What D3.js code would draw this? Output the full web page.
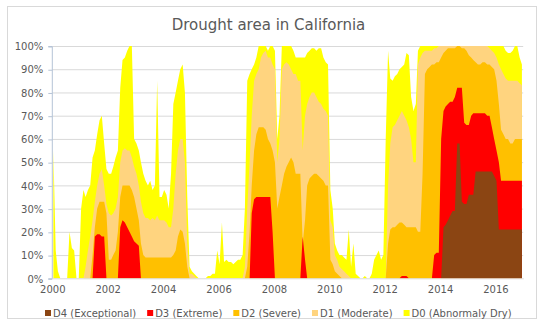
<!DOCTYPE html>
<html>
<head>
<meta charset="utf-8">
<script src="https://cdn.jsdelivr.net/npm/d3@7"></script>
<style>
  html, body { margin: 0; padding: 0; background: #fff; }
  svg { display: block; font-family: "DejaVu Sans", Verdana, sans-serif; }
</style>
</head>
<body>
<svg id="chart" width="543" height="324"></svg>
<script>
// ---- chart data ---------------------------------------------------------
const chartTitle = "Drought area in California";
const firstYear = 2000;
const lastYear = 2016;
const yTickValues = [0, 10, 20, 30, 40, 50, 60, 70, 80, 90, 100];
const xTickYears = [2000, 2002, 2004, 2006, 2008, 2010, 2012, 2014, 2016];

const levels = ["D4 (Exceptional)", "D3 (Extreme)", "D2 (Severe)", "D1 (Moderate)", "D0 (Abnormaly Dry)"];
const levelColors = ["#8b4513", "#ff0000", "#ffc000", "#ffd47f", "#ffff00"];

// Percent of the state's area at the given level or worse.
// One row per year, Jan..Dec.
const d0_d4 = [
  55, 12,  3,  0,  0,  0,  0, 20, 13, 12,  0,  0, // 2000
  30, 38, 35, 38, 40, 52, 55, 62, 68, 70, 58, 47, // 2001
  45, 45, 48, 52, 55, 82, 94, 95, 98,100,100, 60, // 2002
  58, 55, 50, 45, 42, 40, 42, 38, 40, 85, 35, 35, // 2003
  38, 36, 30, 45, 75, 80, 85, 90, 92, 80, 35,  5, // 2004
   3,  2,  1,  0,  0,  0,  0,  1,  1,  2,  2, 12, // 2005
   6, 24,  7,  8,  7,  7,  6,  7,  8,  8, 10, 30, // 2006
  85, 88, 90, 92, 95,100,100,100,100, 98,100,100, // 2007
  98, 60, 70,100,100,100,100,100, 98, 95, 95, 95, // 2008
  95, 95, 97, 98, 99, 99, 98, 99, 99, 95, 93, 92, // 2009
  38, 30, 15, 12, 10, 10,  9,  8, 21,  5, 15,  2, // 2010
   1,  0,  0,  1,  0,  0,  2,  8, 10, 12,  8, 10, // 2011
  60, 98, 86, 85, 87, 88, 90, 91, 92, 97, 96, 78, // 2012
  72, 75, 98,100,100,100,100,100,100,100,100,100, // 2013
 100,100,100,100,100,100,100,100,100,100,100,100, // 2014
 100,100,100,100,100,100,100,100,100,100,100,100, // 2015
 100,100,100,100, 98, 97, 97, 98,100,100, 95, 92  // 2016
];
const d1_d4 = [
   0,  0,  0,  0,  0,  0,  0,  0,  0,  0,  0,  0, // 2000
   0,  0,  5, 12, 18, 25, 33, 40, 45, 47, 40, 32, // 2001
  28, 27, 28, 30, 35, 50, 55, 56, 55, 55, 52, 48, // 2002
  45, 40, 33, 28, 26, 26, 25, 26, 25, 27, 25, 25, // 2003
  25, 24, 22, 22, 30, 45, 55, 60, 60, 50, 15,  2, // 2004
   2,  1,  0,  0,  0,  0,  0,  0,  0,  0,  0,  0, // 2005
   0,  0,  0,  0,  0,  0,  0,  0,  0,  0,  0,  5, // 2006
  30, 50, 70, 85, 88, 90, 95, 97, 98, 95, 95, 92, // 2007
  90, 50, 60, 90, 92, 93, 92, 90, 88, 88, 85, 85, // 2008
  55, 70, 75, 78, 80, 80, 78, 76, 75, 73, 72, 70, // 2009
  25, 22, 10,  8,  5,  4,  3,  2,  1,  0,  0,  0, // 2010
   0,  0,  0,  0,  0,  0,  0,  0,  0,  0,  0,  0, // 2011
   0, 40, 58, 65, 66, 68, 70, 72, 70, 68, 65, 60, // 2012
  50, 50, 92, 95, 97, 98, 98, 98, 98, 99, 99,100, // 2013
 100,100,100,100,100,100,100,100,100,100,100,100, // 2014
 100,100,100,100,100,100,100,100,100, 99, 98, 97, // 2015
  95, 92, 90, 88, 86, 85, 85, 85, 85, 85, 84, 83  // 2016
];
const d2_d4 = [
   0,  0,  0,  0,  0,  0,  0,  0,  0,  0,  0,  0, // 2000
   0,  0,  0,  0,  0, 10, 22, 30, 33, 33, 33, 28, // 2001
   8,  8, 10, 12, 20, 35, 40, 40, 40, 40, 38, 35, // 2002
  30, 25, 15, 10,  9,  9,  9,  9,  9,  9,  9,  9, // 2003
   9,  9,  9,  9, 10, 12, 18, 21, 20, 15,  5,  0, // 2004
   0,  0,  0,  0,  0,  0,  0,  0,  0,  0,  0,  0, // 2005
   0,  0,  0,  0,  0,  0,  0,  0,  0,  0,  0,  0, // 2006
   5, 20, 40, 55, 62, 65, 65, 65, 64, 60, 58, 55, // 2007
  50, 30, 35, 40, 45, 48, 50, 52, 50, 45, 45, 45, // 2008
  15, 25, 40, 43, 44, 45, 45, 44, 43, 42, 40, 40, // 2009
   8,  6,  3,  2,  1,  0,  0,  0,  0,  0,  0,  0, // 2010
   0,  0,  0,  0,  0,  0,  0,  0,  0,  0,  0,  0, // 2011
   0, 15, 21, 22, 22, 23, 24, 24, 23, 22, 22, 22, // 2012
  22, 22, 20, 20, 45, 88, 90, 91, 92, 92, 93, 93, // 2013
  95, 97, 98, 99, 99, 99, 99,100,100, 99, 99, 98, // 2014
  96, 95, 94, 93, 92, 92, 93, 93, 92, 92, 91, 90, // 2015
  85, 75, 64, 62, 60, 60, 58, 58, 60, 60, 60, 60  // 2016
];
const d3_d4 = [
   0,  0,  0,  0,  0,  0,  0,  0,  0,  0,  0,  0, // 2000
   0,  0,  0,  0,  0,  0, 18, 19, 19, 18, 18,  0, // 2001
   0,  0,  0,  0,  0, 22, 25, 24, 22, 20, 18, 16, // 2002
  15, 14,  0,  0,  0,  0,  0,  0,  0,  0,  0,  0, // 2003
   0,  0,  0,  0,  0,  0,  0,  0,  0,  0,  0,  0, // 2004
   0,  0,  0,  0,  0,  0,  0,  0,  0,  0,  0,  0, // 2005
   0,  0,  0,  0,  0,  0,  0,  0,  0,  0,  0,  0, // 2006
   0,  0, 28, 34, 35, 35, 35, 35, 35, 35, 35, 20, // 2007
   0,  0,  0,  0,  0,  0,  0,  0,  0,  0,  0,  0, // 2008
  18,  8,  0,  0,  0,  0,  0,  0,  0,  0,  0,  0, // 2009
   0,  0,  0,  0,  0,  0,  0,  0,  0,  0,  0,  0, // 2010
   0,  0,  0,  0,  0,  0,  0,  0,  0,  0,  0,  0, // 2011
   0,  0,  0,  0,  0,  0,  0,  1,  1,  1,  0,  0, // 2012
   0,  0,  0,  0,  0,  0,  0,  0,  0, 10, 11, 11, // 2013
  60, 72, 74, 75, 76, 76, 78, 82, 82, 82, 67, 66, // 2014
  66, 70, 71, 71, 71, 71, 71, 71, 70, 70, 65, 60, // 2015
  55, 50, 42, 42, 42, 42, 42, 42, 42, 42, 42, 42  // 2016
];
const d4 = [
   0,  0,  0,  0,  0,  0,  0,  0,  0,  0,  0,  0, // 2000
   0,  0,  0,  0,  0,  0,  0,  0,  0,  0,  0,  0, // 2001
   0,  0,  0,  0,  0,  0,  0,  0,  0,  0,  0,  0, // 2002
   0,  0,  0,  0,  0,  0,  0,  0,  0,  0,  0,  0, // 2003
   0,  0,  0,  0,  0,  0,  0,  0,  0,  0,  0,  0, // 2004
   0,  0,  0,  0,  0,  0,  0,  0,  0,  0,  0,  0, // 2005
   0,  0,  0,  0,  0,  0,  0,  0,  0,  0,  0,  0, // 2006
   0,  0,  0,  0,  0,  0,  0,  0,  0,  0,  0,  0, // 2007
   0,  0,  0,  0,  0,  0,  0,  0,  0,  0,  0,  0, // 2008
   0,  0,  0,  0,  0,  0,  0,  0,  0,  0,  0,  0, // 2009
   0,  0,  0,  0,  0,  0,  0,  0,  0,  0,  0,  0, // 2010
   0,  0,  0,  0,  0,  0,  0,  0,  0,  0,  0,  0, // 2011
   0,  0,  0,  0,  0,  0,  0,  0,  0,  0,  0,  0, // 2012
   0,  0,  0,  0,  0,  0,  0,  0,  0,  0,  0,  0, // 2013
   0, 22, 23, 25, 27, 29, 29, 58, 58, 33, 32, 32, // 2014
  36, 36, 36, 46, 46, 46, 46, 46, 46, 46, 46, 44, // 2015
  42, 21, 21, 21, 21, 21, 21, 21, 21, 21, 21, 21  // 2016
];

// ---- layout -------------------------------------------------------------
const svg = d3.select("#chart");
const W = 543, H = 324;
const plot = { left: 52.3, right: 523.2, top: 46, bottom: 278.3 };
const textColor = "#595959";

svg.append("rect").attr("width", W).attr("height", H).attr("fill", "#fff");
svg.append("rect")
  .attr("x", 7.5).attr("y", 6.5).attr("width", 529).attr("height", 312)
  .attr("fill", "none").attr("stroke", "#d9d9d9");

const x = d3.scaleTime()
  .domain([new Date(firstYear, 0, 1), new Date(lastYear + 1, 0, 1)])
  .range([plot.left, plot.right]);
const y = d3.scaleLinear().domain([0, 100]).range([plot.bottom, plot.top]);

// month stamps (mid-month) for the series rows
const monthDates = d3.range(d0_d4.length).map(i => new Date(firstYear, i, 15));

// gridlines
svg.append("g").selectAll("line").data(yTickValues.filter(v => v > 0)).join("line")
  .attr("x1", plot.left).attr("x2", plot.right)
  .attr("y1", d => y(d) + 0.5).attr("y2", d => y(d) + 0.5)
  .attr("stroke", "#d9d9d9").attr("stroke-width", 1);

// stacked drought levels, drawn from the widest (D0 or worse) to the narrowest
const cumulative = [d4, d3_d4, d2_d4, d1_d4, d0_d4];
const area = d3.area()
  .x(d => x(d.date))
  .y0(y(0))
  .y1(d => y(d.v))
  .curve(d3.curveLinear);

const areaG = svg.append("g");
for (let k = cumulative.length - 1; k >= 0; k--) {
  const series = cumulative[k].map((v, i) => ({ date: monthDates[i], v }));
  areaG.append("path")
    .datum(series)
    .attr("d", area)
    .attr("fill", levelColors[k]);
}

// y axis
const yAxis = d3.axisLeft(y).tickValues(yTickValues).tickSize(4).tickPadding(5)
  .tickFormat(d => d + "%");
const gy = svg.append("g").attr("transform", `translate(${plot.left},0.5)`).call(yAxis);
gy.select(".domain").attr("stroke", "#b5c3d6").attr("d", `M-4,${plot.top}H0V${plot.bottom}H-4`);
gy.selectAll(".tick line").attr("stroke", "#b5c3d6");
gy.selectAll(".tick text").attr("fill", textColor).attr("font-size", 10)
  .attr("font-family", "DejaVu Sans, sans-serif");

// x axis (year labels only)
const xAxis = d3.axisBottom(x)
  .tickValues(xTickYears.map(yr => new Date(yr, 0, 1)))
  .tickSize(0).tickPadding(8)
  .tickFormat(d3.timeFormat("%Y"));
const gx = svg.append("g").attr("transform", `translate(0,${plot.bottom})`).call(xAxis);
gx.select(".domain").attr("stroke", "#d9d9d9");
gx.selectAll(".tick text").attr("fill", textColor).attr("font-size", 10)
  .attr("font-family", "DejaVu Sans, sans-serif");

// title
svg.append("text")
  .attr("x", 268.5).attr("y", 29.5)
  .attr("text-anchor", "middle")
  .attr("fill", textColor)
  .attr("font-size", 15)
  .text(chartTitle);

// legend
const legendY = 313;
const legend = svg.append("g");
let lx = 45;
levels.forEach((name, i) => {
  const g = legend.append("g").attr("transform", `translate(${lx},${legendY})`);
  g.append("rect").attr("x", 0).attr("y", -3).attr("width", 6).attr("height", 6)
    .attr("fill", levelColors[i]);
  const t = g.append("text").attr("x", 8).attr("y", 3.6)
    .attr("fill", textColor).attr("font-size", 10).text(name);
  lx += 8 + t.node().getComputedTextLength() + 11;
});
</script>
</body>
</html>
